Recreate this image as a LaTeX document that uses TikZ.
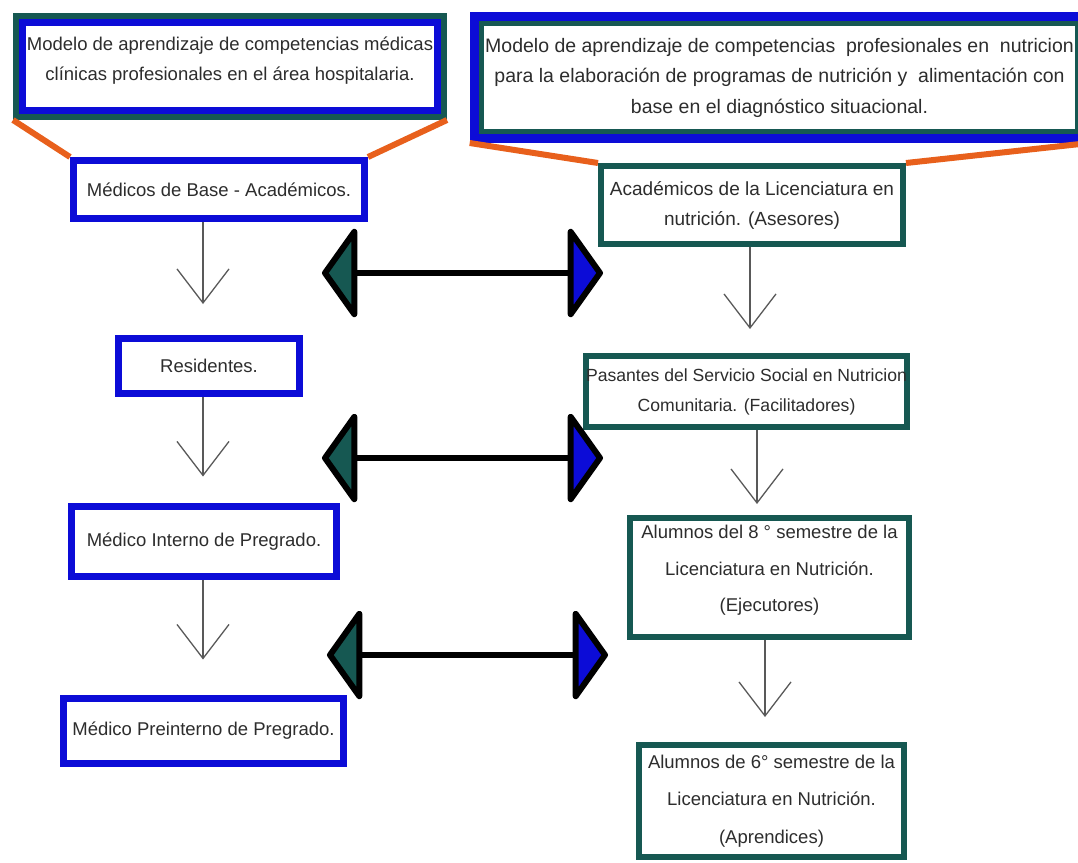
\documentclass[tikz,border=0pt]{standalone}
\usepackage{fontspec}
\setmainfont{Liberation Sans}
\usetikzlibrary{arrows.meta}

\definecolor{azul}{RGB}{12,12,215}
\definecolor{verde}{RGB}{22,88,82}
\definecolor{naranja}{RGB}{232,96,28}
\definecolor{texto}{RGB}{45,45,45}

\tikzset{
  caja/.style={fill=white, inner xsep=4pt, inner ysep=0pt, align=center, text=texto,
    font=\fontsize{18.5}{30}\selectfont},
  cajaazul/.style={caja, draw=azul, line width=7pt},
  cajaverde/.style={caja, draw=verde, line width=6pt},
  tituloA/.style={caja, draw=azul, line width=7pt, preaction={draw=verde, line width=19pt},
    outer sep=9.5pt},
  tituloB/.style={caja, draw=verde, line width=5pt, preaction={draw=azul, line width=23pt},
    outer sep=11.5pt},
  flecha/.style={draw=black!65, line width=1.3pt, -{Straight Barb[length=34pt,width=52pt]}},
  enlace/.style={line width=6pt,
    {Triangle[fill=verde,length=36pt,width=100pt,round]}-{Triangle[fill=azul,length=36pt,width=100pt,round]}},
  union/.style={draw=naranja, line width=6pt},
}

\begin{document}
\begin{tikzpicture}[x=1pt,y=-1pt]
    \useasboundingbox (0,0) rectangle (1078,862);

    % columna izquierda
    \node[tituloA, minimum width=415pt, minimum height=88pt, text depth=15pt] (modeloMed) at (230,66.5)
        {Modelo de aprendizaje de competencias médicas\\clínicas profesionales en el área hospitalaria.};
    \node[cajaazul, minimum width=291pt, minimum height=58pt] (medicos) at (219,189.5)
        {Médicos de Base - Académicos.};
    \node[cajaazul, minimum width=181pt, minimum height=55pt] (residentes) at (209,366)
        {Residentes.};
    \node[cajaazul, minimum width=265pt, minimum height=70pt] (interno) at (204,541.5)
        {Médico Interno de Pregrado.};
    \node[cajaazul, minimum width=280pt, minimum height=65pt, inner xsep=1pt] (preinterno) at (203.5,731)
        {Médico Preinterno de Pregrado.};

    % columna derecha
    \node[tituloB, minimum width=568pt, minimum height=108pt, font=\fontsize{19.5}{30.5}\selectfont] (modeloNut) at (779.5,77.5)
        {Modelo de aprendizaje de competencias\ \ profesionales en\ \ nutricion\\
         para la elaboración de programas de nutrición y\ \ alimentación con\\
         base en el diagnóstico situacional.};
    \node[cajaverde, minimum width=302pt, minimum height=78pt, font=\fontsize{19}{30}\selectfont] (academicos) at (752,205)
        {Académicos de la Licenciatura en\\nutrición. (Asesores)};
    \node[cajaverde, minimum width=317pt, minimum height=71pt, inner xsep=0pt, font=\fontsize{17.6}{30}\selectfont] (pasantes) at (746.5,391.5)
        {Pasantes del Servicio Social en Nutricion\\Comunitaria. (Facilitadores)};
    \node[cajaverde, minimum width=279pt, minimum height=119pt, text depth=18pt, font=\fontsize{18.5}{36.5}\selectfont] (alumnos8) at (769.5,577.5)
        {Alumnos del 8 ° semestre de la\\Licenciatura en Nutrición.\\(Ejecutores)};
    \node[cajaverde, minimum width=265pt, minimum height=112pt, font=\fontsize{18.5}{37.5}\selectfont] (alumnos6) at (771.5,801)
        {Alumnos de 6° semestre de la\\Licenciatura en Nutrición.\\(Aprendices)};

    % uniones naranjas
    \draw[union] (modeloMed.south west) -- (medicos.north west);
    \draw[union] (modeloMed.south east) -- (medicos.north east);
    \draw[union] (modeloNut.south west) -- (academicos.north west);
    \draw[union] (modeloNut.south east) -- (academicos.north east);

    % flechas verticales
    \coordinate (ejeI) at (203,0);
    \draw[flecha, shorten >=31pt] (medicos.south -| ejeI) -- (residentes.north -| ejeI);
    \draw[flecha, shorten >=26.5pt] (residentes.south -| ejeI) -- (interno.north -| ejeI);
    \draw[flecha, shorten >=35.5pt] (interno.south -| ejeI) -- (preinterno.north -| ejeI);
    \draw[flecha, shorten >=24pt] ([xshift=-2pt]academicos.south) -- ([xshift=-2pt]academicos.south |- pasantes.north);
    \draw[flecha, shorten >=11pt] ([xshift=10.5pt]pasantes.south) -- ([xshift=10.5pt]pasantes.south |- alumnos8.north);
    \draw[flecha, shorten >=25pt] ([xshift=-4.5pt]alumnos8.south) -- ([xshift=-4.5pt]alumnos8.south |- alumnos6.north);

    % flechas dobles
    \foreach \n/\y/\xa/\xb in {1/273/322/603, 2/458/322/603, 3/655/327/608}{
        \coordinate (izq\n) at (\xa,\y);
        \coordinate (der\n) at (\xb,\y);
        \draw[enlace] (izq\n) -- (der\n);
    }
\end{tikzpicture}
\end{document}
